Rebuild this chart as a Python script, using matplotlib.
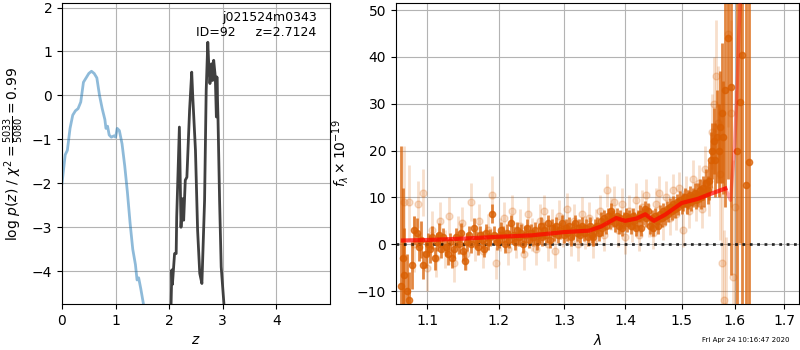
import numpy as np
import matplotlib
matplotlib.use("Agg")
import matplotlib.pyplot as plt
from matplotlib.ticker import FixedLocator, NullLocator, FormatStrFormatter

# --- p(z) panel ---
z_lo = [0.0, 0.06, 0.1, 0.15, 0.2, 0.25, 0.3, 0.35, 0.4, 0.45, 0.5, 0.55, 0.6, 0.65,
        0.7, 0.75, 0.8, 0.82, 0.85, 0.88, 0.92, 0.97, 1.0, 1.03, 1.07, 1.12, 1.17,
        1.22, 1.27, 1.32, 1.37, 1.40, 1.43, 1.47, 1.52, 1.56]
logp_lo = [-2.0, -1.35, -1.25, -0.75, -0.45, -0.35, -0.3, -0.15, 0.3, 0.4, 0.5, 0.55,
           0.5, 0.4, 0.0, -0.3, -0.55, -0.75, -0.7, -0.9, -0.95, -0.92, -0.95, -0.75,
           -0.8, -1.1, -1.6, -2.2, -2.9, -3.5, -3.85, -4.2, -4.15, -4.4, -4.75, -5.0]

z_hi = [2.03, 2.05, 2.06, 2.10, 2.13, 2.14, 2.19, 2.22, 2.25, 2.27, 2.30, 2.33, 2.38,
        2.42, 2.44, 2.49, 2.53, 2.57, 2.61, 2.66, 2.69, 2.72, 2.74, 2.76, 2.79, 2.81,
        2.83, 2.86, 2.88, 2.89, 2.91, 2.94, 2.97, 3.02, 3.03]
logp_hi = [-5.0, -3.97, -4.3, -3.6, -3.6, -2.77, -0.72, -3.0, -2.35, -2.84, -1.93,
           -1.86, -0.34, 0.53, -0.04, -1.25, -3.07, -4.05, -4.28, -2.39, 0.11, 1.21,
           0.64, 0.27, 0.72, 0.34, 0.8, 0.42, -0.49, 0.42, -0.49, -2.39, -3.9, -4.73, -5.2]

# --- spectrum panel: primary (dark) points ---
wave_a = [1.066, 1.068, 1.070, 1.073, 1.076, 1.080, 1.083, 1.086, 1.089, 1.092, 1.095,
          1.098, 1.101, 1.104, 1.107, 1.110, 1.113, 1.116, 1.119, 1.122, 1.125, 1.128,
          1.131, 1.134, 1.137, 1.140, 1.143, 1.146, 1.149, 1.152, 1.155, 1.158, 1.161,
          1.164, 1.167, 1.170, 1.173, 1.176, 1.179, 1.182, 1.185, 1.188, 1.191, 1.194,
          1.197, 1.200, 1.203, 1.206, 1.209, 1.212, 1.215, 1.218, 1.221, 1.224, 1.227,
          1.230, 1.233, 1.236, 1.239, 1.242, 1.245, 1.248, 1.251, 1.254, 1.257, 1.260,
          1.263, 1.266, 1.269, 1.272, 1.275, 1.278, 1.281, 1.284, 1.287, 1.290, 1.293,
          1.296, 1.299, 1.302, 1.305, 1.308, 1.311, 1.314, 1.317, 1.320, 1.323, 1.326,
          1.329, 1.332, 1.335, 1.338, 1.341, 1.344, 1.347, 1.350, 1.353, 1.356, 1.359,
          1.362, 1.365, 1.368, 1.371, 1.374, 1.377, 1.380, 1.383, 1.386, 1.389, 1.392,
          1.395, 1.398, 1.401, 1.404, 1.407, 1.410, 1.413, 1.416, 1.419, 1.422, 1.425,
          1.428, 1.431, 1.434, 1.437, 1.440, 1.443, 1.446, 1.449, 1.452, 1.455, 1.458,
          1.461, 1.464, 1.467, 1.470, 1.473, 1.476, 1.479, 1.482, 1.485, 1.488, 1.491,
          1.494, 1.497, 1.500, 1.503, 1.506, 1.509, 1.512, 1.515, 1.518, 1.521, 1.524,
          1.527, 1.530, 1.533, 1.536, 1.539, 1.542, 1.545, 1.548, 1.551, 1.554, 1.557,
          1.560, 1.563, 1.566, 1.569, 1.572, 1.575, 1.578, 1.582, 1.588, 1.592, 1.604,
          1.610, 1.6136, 1.6225, 1.6286]
flux_a = [-9, -3, -6.5, -10, -12, -4.5, 3, 2.5, -0.5, 1, -4.5,
          -2, 0, -1, 1.5, -3, 0.5, 2, -1, 1.5, -0.5, -2,
          0.5, -3, -1, 1.5, 0, 2.5, -1.5, -3.5, 0.5, 2, 0,
          3.5, 1, -0.5, 2, 1, -1, 2.5, 0.5, 1.5, 6.5, 2,
          0.5, 1, 3, 2, 0, 2.5, 1, 4.5, 2, 0.5, 3,
          1.5, 2.5, 0, 2, 3.5, 1, 2.5, 1.5, 3, 0.5, 2,
          4, 1.5, 3, 2, 4.5, 1, 3.5, 2.5, 4, 2, 3,
          4.5, 2, 3.5, 2.5, 4, 1.5, 3, 4.5, 2.5, 3.5, 2,
          4, 2.5, 3.5, 1.5, 4, 2, 1.5, 3.5, 4, 2.5, 5,
          3.5, 5.5, 4, 6, 5, 7, 5.5, 4.5, 6, 4, 5.5,
          3.5, 5, 6, 4.5, 5.5, 4, 6, 5, 3.5, 5.5, 6.5,
          3.5, 6, 7.5, 5.5, 7, 4, 5.5, 3.5, 6, 5, 4,
          6.5, 5.5, 7, 6, 7.5, 6.5, 8, 7, 8.5, 7.5, 9,
          8, 9.5, 8.5, 9, 10, 8.5, 9.5, 10.5, 9, 10, 11,
          9.5, 10.5, 11.5, 10, 12, 11, 13, 11.5, 13.5, 18, 20,
          22, 18, 23, 20, 25, 28, 22.8, 33, 44, 33.5, 20,
          30.3, 40.5, 12.6, 17.5]
err_a = [30, 15, 10, 8, 6, 5, 3, 3, 3, 4, 3,
         3, 2.5, 3, 2.5, 2.5, 2, 2.5, 2, 2, 2, 2.5,
         2, 2, 2, 2, 2, 2, 2, 2, 2, 1.8, 1.8,
         2, 1.8, 1.8, 1.8, 1.8, 1.8, 1.8, 1.8, 1.8, 2, 1.8,
         1.8, 1.8, 1.8, 1.8, 1.8, 1.8, 1.8, 1.8, 1.8, 1.8, 1.8,
         1.8, 1.8, 1.8, 1.8, 1.8, 1.8, 1.8, 1.8, 1.8, 1.8, 1.8,
         1.8, 1.8, 1.8, 1.8, 1.8, 1.8, 1.8, 1.8, 1.8, 1.8, 1.8,
         1.8, 1.8, 1.8, 1.8, 1.8, 1.8, 1.8, 1.8, 1.8, 1.8, 1.8,
         1.8, 1.8, 1.8, 1.8, 1.8, 1.8, 1.8, 1.8, 1.8, 1.8, 1.8,
         1.8, 1.8, 1.8, 1.8, 1.8, 1.8, 1.8, 1.8, 1.8, 1.8, 1.8,
         1.8, 1.8, 1.8, 1.8, 1.8, 1.8, 1.8, 1.8, 1.8, 1.8, 1.8,
         1.8, 1.8, 1.8, 1.8, 1.8, 1.8, 1.8, 1.8, 1.8, 1.8, 1.8,
         1.8, 1.8, 1.8, 1.8, 1.8, 1.8, 1.8, 1.8, 1.8, 1.8, 1.8,
         1.8, 1.8, 2, 2, 2, 2, 2, 2, 2, 2, 2,
         2, 2.5, 2.5, 2.5, 2.5, 3, 3, 3, 4, 6, 6,
         7, 8, 10, 10, 12, 15, 12, 25, 30, 40, 80,
         30, 80, 80, 80]

# --- spectrum panel: second (faint) points ---
wave_b = [1.070, 1.076, 1.082, 1.088, 1.094, 1.100, 1.106, 1.112, 1.118, 1.124, 1.130,
          1.136, 1.142, 1.148, 1.154, 1.160, 1.166, 1.172, 1.178, 1.184, 1.190, 1.196,
          1.202, 1.208, 1.214, 1.220, 1.226, 1.232, 1.238, 1.244, 1.250, 1.256, 1.262,
          1.268, 1.274, 1.280, 1.286, 1.292, 1.298, 1.304, 1.310, 1.316, 1.322, 1.328,
          1.334, 1.340, 1.346, 1.352, 1.358, 1.364, 1.370, 1.376, 1.382, 1.388, 1.394,
          1.400, 1.406, 1.412, 1.418, 1.424, 1.430, 1.436, 1.442, 1.448, 1.454, 1.460,
          1.466, 1.472, 1.478, 1.484, 1.490, 1.496, 1.502, 1.508, 1.514, 1.520, 1.526,
          1.532, 1.538, 1.544, 1.550, 1.556, 1.560, 1.564, 1.568, 1.572, 1.576, 1.580,
          1.584, 1.588, 1.592, 1.596, 1.600]
flux_b = [9, 9, 0, 8.5, 11, -5, 3, -3, 5, -1, 6,
          -4, 2, 4.5, -2, 9, 0, 5, -1.5, 3, 10.5, -4,
          2, 5.5, -1, 7, 0.5, 4, -2, 6.5, 2, -1, 5,
          7, 0, 4, -1.5, 6, 3, 7.5, 1, 5, 0, 6.5,
          2.5, 5.5, 0.5, 4, 7, 2, 11.5, 6.5, 9, 3, 8.5,
          1.5, 7, 4, 9.5, 2, 8, 10.5, 5, 2.5, 8.5, 11,
          4.5, 10, 5.5, 11.5, 6.5, 12, 3, 11, 7, 14, 9,
          13, 7.5, 16, 12, 24, 30, 36, 26, 15, -4, -12,
          -13.5, 45, 28, -7, 8]
err_b = [12, 8, 6, 5, 5, 5, 4, 4, 4, 4, 4,
         4, 4, 3.5, 3.5, 4, 3.5, 3.5, 3.5, 3.5, 4, 3.5,
         3.5, 3.5, 3.5, 3.5, 3.5, 3.5, 3.5, 3.5, 3.5, 3.5, 3.5,
         3.5, 3.5, 3.5, 3.5, 3.5, 3.5, 3.5, 3.5, 3.5, 3.5, 3.5,
         3.5, 3.5, 3.5, 3.5, 3.5, 3.5, 3.5, 3.5, 3.5, 3.5, 3.5,
         3.5, 3.5, 3.5, 3.5, 3.5, 3.5, 3.5, 3.5, 3.5, 3.5, 3.5,
         3.5, 3.5, 3.5, 3.5, 3.5, 3.5, 3.5, 3.5, 3.5, 4, 4,
         4, 4, 5, 6, 8, 10, 12, 12, 14, 15, 15,
         15, 20, 20, 25, 25]

# best-fit model
wave_m = [1.068, 1.10, 1.15, 1.20, 1.25, 1.30, 1.34, 1.36, 1.385, 1.40, 1.42, 1.435,
          1.45, 1.47, 1.50, 1.53, 1.55, 1.582]
flux_m = [0.8, 0.9, 1.2, 1.6, 1.9, 2.6, 2.9, 3.8, 5.6, 5.0, 5.5, 6.4, 5.0, 6.3, 8.8,
          9.7, 10.6, 11.9]
wave_m2 = [1.582, 1.592, 1.600, 1.604, 1.608, 1.612]
flux_m2 = [11.9, 9.4, 21.5, 30.8, 44.3, 55.0]

fig = plt.figure(figsize=(8, 3.5), dpi=100)
ax1 = fig.add_axes([0.0775, 0.131, 0.335, 0.86])
ax2 = fig.add_axes([0.495, 0.131, 0.504, 0.86])

ax1.plot(z_lo, logp_lo, color="tab:blue", alpha=0.5, lw=2)
ax1.plot(z_hi, logp_hi, color="0.25", lw=2)
ax1.set_xlim(0, 5)
ax1.set_ylim(-4.75, 2.1)
ax1.set_xticks([0, 1, 2, 3, 4])
ax1.grid(color="0.7")
ax1.set_xlabel("$z$")
ax1.set_ylabel(r"log $p(z)$ / $\chi^2=\frac{5033}{5080}=0.99$")
ax1.text(0.95, 0.975, "j021524m0343\nID=92     z=2.7124", transform=ax1.transAxes,
         ha="right", va="top", fontsize=9)

c = "#d95f02"
ax2.errorbar(wave_b, flux_b, err_b, color=c, marker="o", ms=5, ls="none",
             alpha=0.2, elinewidth=2)
ax2.errorbar(wave_a, flux_a, err_a, color=c, marker="o", ms=4.5, ls="none",
             alpha=0.75, elinewidth=2)
ax2.plot(wave_m, flux_m, color="r", lw=3, alpha=0.7, zorder=10)
ax2.plot(wave_m2, flux_m2, color="r", lw=2.5, alpha=0.35, zorder=10)
ax2.axhline(0, color="k", ls=":", lw=2, alpha=0.8)

ax2.set_xscale("log")
ax2.set_xlim(1.059, 1.731)
ax2.set_ylim(-12.8, 51.5)
ax2.xaxis.set_major_locator(FixedLocator([1.1, 1.2, 1.3, 1.4, 1.5, 1.6, 1.7]))
ax2.xaxis.set_minor_locator(NullLocator())
ax2.xaxis.set_major_formatter(FormatStrFormatter("%.1f"))
ax2.grid(color="0.7")
ax2.set_xlabel(r"$\lambda$")
ax2.set_ylabel(r"$f_\lambda\times10^{-19}$")

fig.text(0.9875, 0.02, "Fri Apr 24 10:16:47 2020", ha="right", va="bottom", fontsize=5)

fig.savefig("out.png", dpi=100)
